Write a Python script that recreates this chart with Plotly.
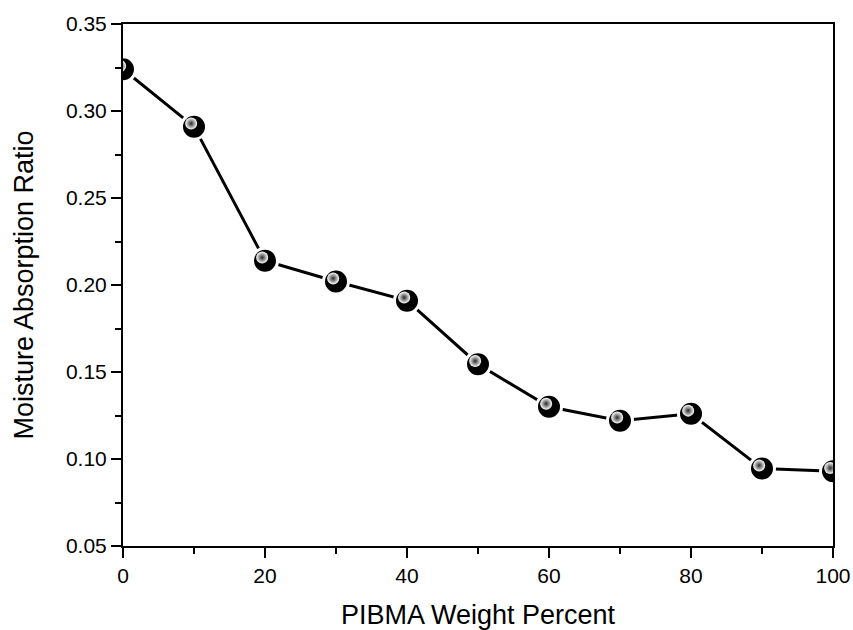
import plotly.graph_objects as go

pibma_wt = [0, 10, 20, 30, 40, 50, 60, 70, 80, 90, 100]
moisture_ratio = [0.324, 0.291, 0.214, 0.202, 0.191, 0.1545, 0.130, 0.122, 0.126, 0.0945, 0.093]

x_tick_vals = [0, 20, 40, 60, 80, 100]
y_tick_vals = [0.05, 0.10, 0.15, 0.20, 0.25, 0.30, 0.35]

fig = go.Figure()

# line + black spheres
fig.add_trace(go.Scatter(
    x=pibma_wt, y=moisture_ratio, mode="lines+markers",
    line=dict(color="black", width=3),
    marker=dict(size=25, color="black", line=dict(color="white", width=3)),
    cliponaxis=True, showlegend=False, hoverinfo="skip"))

# highlight on spheres (drawn on overlaid axes with slightly shifted range)
fig.add_trace(go.Scatter(
    x=pibma_wt, y=moisture_ratio, mode="markers",
    marker=dict(size=12, color="white", line=dict(width=0),
                gradient=dict(type="radial", color="#2a2a2a")),
    xaxis="x2", yaxis="y2", cliponaxis=True, showlegend=False, hoverinfo="skip"))

font = "Liberation Sans, Arial, sans-serif"
dx = 0.4
dy = 0.0018

fig.update_layout(
    width=853, height=630,
    margin=dict(l=123, r=20, t=24, b=84),
    paper_bgcolor="white", plot_bgcolor="white",
    font=dict(family=font, size=21, color="black"),
    xaxis=dict(
        range=[0, 100], tickvals=x_tick_vals, ticks="outside", ticklen=10, tickwidth=2,
        tickcolor="black", showline=True, linecolor="black", linewidth=2, mirror=True,
        showgrid=False, zeroline=False, automargin=False,
        minor=dict(dtick=10, ticks="outside", ticklen=6, tickwidth=2, tickcolor="black", showgrid=False),
        title=dict(text="PIBMA Weight Percent", font=dict(size=27), standoff=20),
        tickfont=dict(size=21)),
    yaxis=dict(
        range=[0.05, 0.35], tickvals=y_tick_vals, tickformat=".2f", ticks="outside", ticklen=10,
        tickwidth=2, tickcolor="black", showline=True, linecolor="black", linewidth=2, mirror=True,
        showgrid=False, zeroline=False, automargin=False,
        minor=dict(dtick=0.025, tick0=0.05, ticks="outside", ticklen=6, tickwidth=2, tickcolor="black", showgrid=False),
        title=dict(text="Moisture Absorption Ratio", font=dict(size=27), standoff=24),
        tickfont=dict(size=21)),
    xaxis2=dict(range=[0 + dx, 100 + dx], overlaying="x", visible=False),
    yaxis2=dict(range=[0.05 - dy, 0.35 - dy], overlaying="y", visible=False),
)

fig.write_html("out.html", config={"displayModeBar": False},
               post_script="document.body.style.margin='0';document.body.style.overflow='hidden';")
